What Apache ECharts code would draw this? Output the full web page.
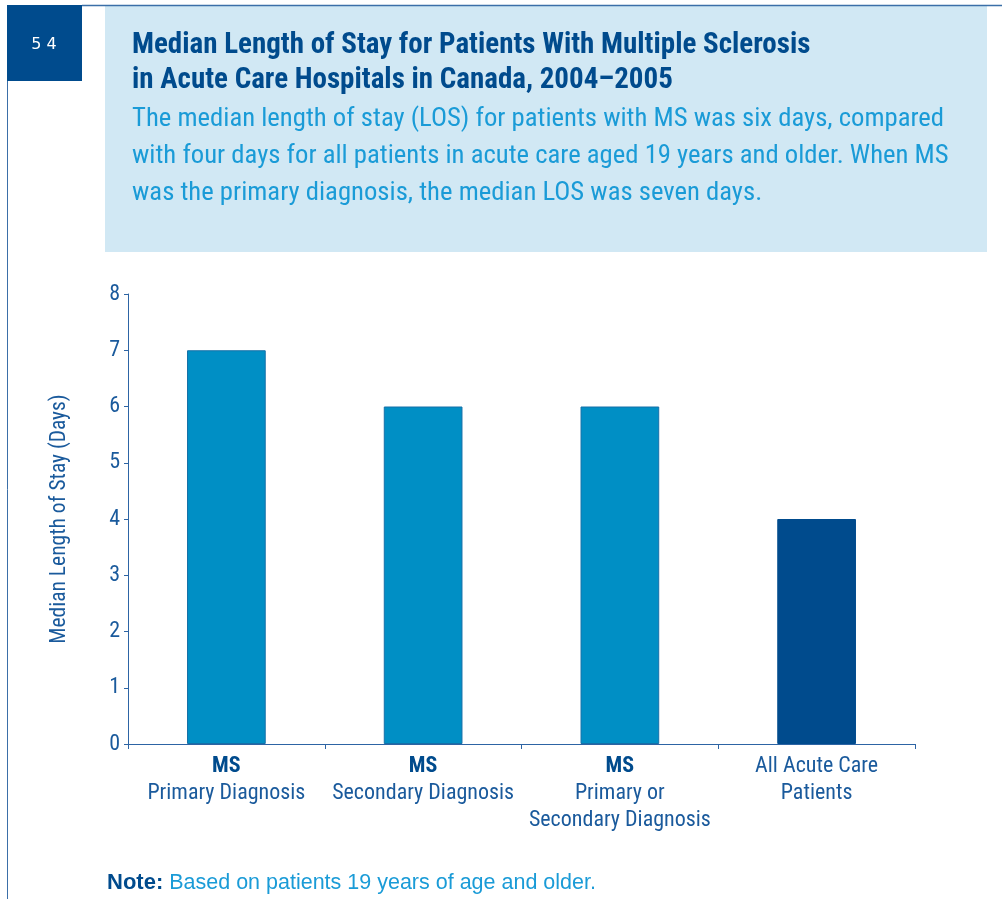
<!DOCTYPE html>
<html>
<head>
<meta charset="utf-8">
<script src="https://cdn.jsdelivr.net/npm/echarts@6/dist/echarts.min.js"></script>
<style>
html,body{margin:0;padding:0;background:#fff;}
#chart{width:1002px;height:899px;}
</style>
</head>
<body>
<div id="chart"></div>
<script>
const categories = ['MS\nPrimary Diagnosis', 'MS\nSecondary Diagnosis', 'MS\nPrimary or\nSecondary Diagnosis', 'All Acute Care\nPatients'];
const losValues = [7, 6, 6, 4];
const barColors = ['#008fc5', '#008fc5', '#008fc5', '#004b8d'];
const yTicks = [0, 1, 2, 3, 4, 5, 6, 7, 8];
const titleLines = ['Median Length of Stay for Patients With Multiple Sclerosis', 'in Acute Care Hospitals in Canada, 2004\u20132005'];
const subtitleLines = ['The median length of stay (LOS) for patients with MS was six days, compared', 'with four days for all patients in acute care aged 19 years and older. When MS', 'was the primary diagnosis, the median LOS was seven days.'];

const NARROW = '"Roboto Condensed", "Liberation Sans", sans-serif';
const DARK = '#004b8d';
const LIGHT = '#1a9bd7';
const AXIS_TXT = '#1a5a9c';

const chart = echarts.init(document.getElementById('chart'));

const graphics = [
  {type:'rect', shape:{x:105, y:5, width:882, height:247}, style:{fill:'#d1e8f4'}, silent:true},
  {type:'line', shape:{x1:82, y1:5.5, x2:1002, y2:5.5}, style:{stroke:'#3b6fa8', lineWidth:1.5}},
  {type:'line', shape:{x1:7.5, y1:80, x2:7.5, y2:899}, style:{stroke:'#3b6fa8', lineWidth:1}},
  {type:'rect', shape:{x:7, y:5, width:75, height:76}, style:{fill:DARK}},
  {type:'text', x:44, y:45, style:{text:'5 4', fill:'#fff', font:'16px "DejaVu Sans", sans-serif', align:'center', verticalAlign:'middle'}},
  {type:'text', x:107, y:883, style:{rich:{b:{fontFamily:'"Liberation Sans", Arial, sans-serif', fontSize:22, fontWeight:'bold', fill:DARK, padding:[0,6,0,0]}, n:{fontFamily:'"Liberation Sans", Arial, sans-serif', fontSize:21.5, fill:LIGHT}}, text:'{b|Note:}{n|Based on patients 19 years of age and older.}', verticalAlign:'middle'}}
];
titleLines.forEach((t, i) => graphics.push({type:'text', x:132, y:46 + i*35, style:{text:t, fill:DARK, font:'bold 29px ' + NARROW, verticalAlign:'middle'}}));
subtitleLines.forEach((t, i) => graphics.push({type:'text', x:132, y:119 + i*37, style:{text:t, fill:LIGHT, font:'26.7px ' + NARROW, verticalAlign:'middle'}}));

chart.setOption({
  animation:false,
  grid:{left:128, right:87, top:294, bottom:155, containLabel:false},
  xAxis:{
    type:'category', data:categories,
    axisLine:{lineStyle:{color:'#2d64a4', width:1}},
    axisTick:{show:true, length:5, lineStyle:{color:'#2d64a4'}},
    axisLabel:{
      margin:9, interval:0, lineHeight:27,
      formatter:function(v){
        const parts = v.split('\n');
        if (parts[0] === 'MS') return '{b|MS}\n' + parts.slice(1).map(p => '{n|' + p + '}').join('\n');
        return parts.map(p => '{n|' + p + '}').join('\n');
      },
      rich:{
        b:{fontFamily:NARROW, fontSize:22, fontWeight:'bold', color:DARK, lineHeight:27},
        n:{fontFamily:NARROW, fontSize:22, color:AXIS_TXT, lineHeight:27}
      }
    }
  },
  yAxis:{
    type:'value', min:yTicks[0], max:yTicks[yTicks.length-1], interval:1,
    name:'Median Length of Stay (Days)', nameLocation:'middle', nameGap:57, nameRotate:90,
    nameTextStyle:{fontFamily:NARROW, fontSize:21.5, color:AXIS_TXT},
    axisLine:{show:true, lineStyle:{color:'#2d64a4', width:1}},
    axisTick:{show:true, length:4, lineStyle:{color:'#2d64a4'}},
    splitLine:{show:false},
    axisLabel:{fontFamily:NARROW, fontSize:22, color:AXIS_TXT, margin:8}
  },
  series:[{
    type:'bar', barWidth:'40%',
    data:losValues.map((v, i) => ({value:v, itemStyle:{color:barColors[i], borderColor: i < 3 ? '#1570a8' : DARK, borderWidth:1}}))
  }],
  graphic:graphics
});
</script>
</body>
</html>
